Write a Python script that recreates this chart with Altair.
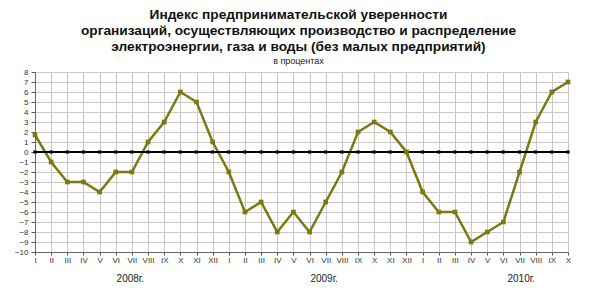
import altair as alt
import pandas as pd

months = ["I", "II", "III", "IV", "V", "VI", "VII", "VIII", "IX", "X", "XI", "XII",
          "I", "II", "III", "IV", "V", "VI", "VII", "VIII", "IX", "X", "XI", "XII",
          "I", "II", "III", "IV", "V", "VI", "VII", "VIII", "IX", "X"]
values = [1.7, -1, -3, -3, -4, -2, -2, 1, 3, 6, 5, 1,
          -2, -6, -5, -8, -6, -8, -5, -2, 2, 3, 2, 0,
          -4, -6, -6, -9, -8, -7, -2, 3, 6, 7]
years = ["2008г.", "2009г.", "2010г."]
year_pos = [5.9, 17.9, 30.1]

df = pd.DataFrame({"idx": list(range(len(months))), "month": months, "value": values})
ydf = pd.DataFrame({"pos": year_pos, "year": years})

FONT = "Liberation Sans"
label_expr = "[" + ",".join(f"'{m}'" for m in months) + "][datum.value]"

xscale = alt.Scale(domain=[0, len(months) - 1], nice=False, zero=False)
yscale = alt.Scale(domain=[-10, 8], nice=False)

xaxis = alt.Axis(values=list(range(len(months))), labelExpr=label_expr,
                 title=None, grid=True, gridColor="#c8c8c8", tickColor="#555",
                 domainColor="#666", labelFont=FONT, labelFontSize=8,
                 labelColor="#333", tickSize=3, labelPadding=1,
                 labelOverlap=False, labelBound=False, labelFlush=False)
yaxis = alt.Axis(values=list(range(-10, 9)), title=None, grid=True,
                 gridColor="#c8c8c8", tickColor="#555", domainColor="#666",
                 labelFont=FONT, labelFontSize=8, labelColor="#333",
                 tickSize=4, labelPadding=3, labelOverlap=False,
                 labelBound=False, labelFlush=False)

X = alt.X("idx:Q", scale=xscale, axis=xaxis)
Y = alt.Y("value:Q", scale=yscale, axis=yaxis)
Y0 = alt.Y(datum=0, type="quantitative", scale=yscale, axis=yaxis)

base = alt.Chart(df)

line = base.mark_line(color="#7a7a10", strokeWidth=2.5).encode(x=X, y=Y)
points = base.mark_point(shape="square", filled=True, size=22, color="#7a7a10", opacity=1).encode(x=X, y=Y)
zero = base.mark_rule(color="black", strokeWidth=2).encode(y=Y0)
zero_pts = base.mark_point(shape="square", filled=True, size=10, color="black", opacity=1).encode(x=X, y=Y0)
year_txt = alt.Chart(ydf).mark_text(font=FONT, fontSize=10, color="#222").encode(
    x=alt.X("pos:Q", scale=xscale, axis=xaxis), y=alt.value(207), text="year:N"
)

chart = alt.layer(line, zero, zero_pts, points, year_txt).properties(
    width=533, height=180,
    title=alt.TitleParams(
        text=["Индекс предпринимательской уверенности",
              "организаций, осуществляющих производство и распределение",
              "электроэнергии, газа и воды (без малых предприятий)"],
        subtitle="в процентах",
        font=FONT, fontSize=13.7, fontWeight="bold", color="#111", lineHeight=16,
        subtitleFont=FONT, subtitleFontSize=9, subtitleColor="#222", subtitlePadding=3,
        anchor="middle", frame="group", offset=2, dx=-3,
    ),
    autosize=alt.AutoSizeParams(type="none"),
    padding={"left": 35, "top": 72, "right": 32, "bottom": 42},
).configure_view(stroke="#666", strokeWidth=1).configure(background="white")

chart.save("out.html", embed_options={"renderer": "svg", "actions": False})
